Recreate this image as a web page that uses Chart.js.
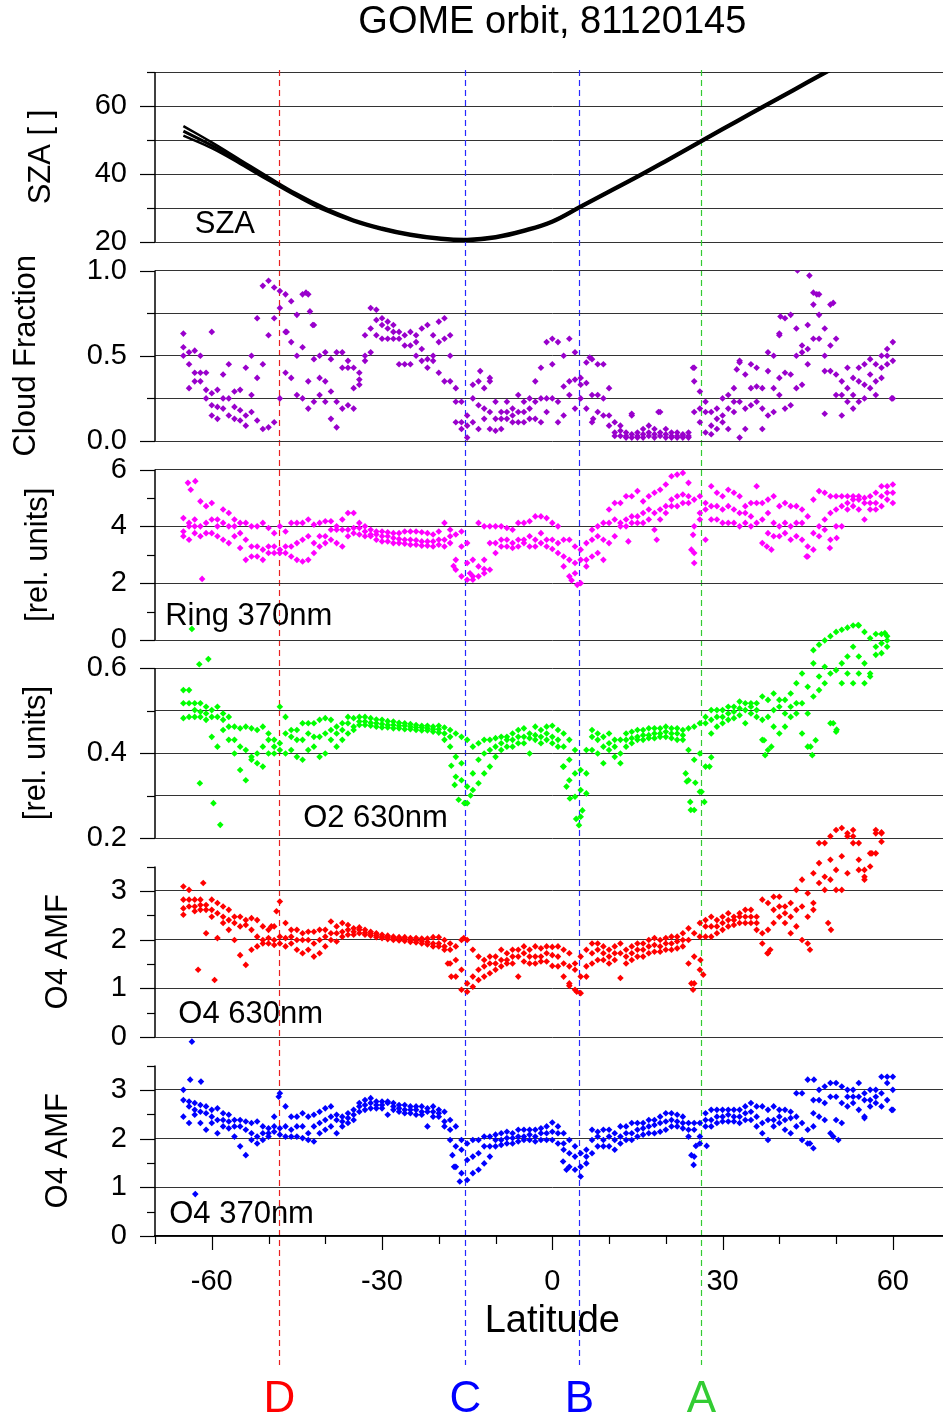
<!DOCTYPE html>
<html>
<head>
<meta charset="utf-8">
<title>GOME orbit, 81120145</title>
<script src="https://cdn.jsdelivr.net/npm/chart.js@4.4.1/dist/chart.umd.min.js"></script>
<style>
  html, body { margin: 0; padding: 0; background: #fff; }
  body { width: 943px; height: 1416px; overflow: hidden; position: relative; }
  canvas { position: absolute; left: 0; top: 0; }
</style>
</head>
<body>
<script>
// latitude grid shared by the three ground-pixel tracks
const LAT = [
  -65,-64,-63,-62,-61,-60,-59,-58,-57,-56,
  -55,-54,-53,-52,-51,-50,-49,-48,-47,-46,
  -45,-44,-43,-42,-41,-40,-39,-38,-37,-36,
  -35,-34,-33,-32,-31,-30,-29,-28,-27,-26,
  -25,-24,-23,-22,-21,-20,-19,-18,-17,-16,
  -15,-14,-13,-12,-11,-10,-9,-8,-7,-6,
  -5,-4,-3,-2,-1,0,1,2,3,4,
  5,6,7,8,9,10,11,12,13,14,
  15,16,17,18,19,20,21,22,23,24,
  25,26,27,28,29,30,31,32,33,34,
  35,36,37,38,39,40,41,42,43,44,
  45,46,47,48,49,50,51,52,53,54,
  55,56,57,58,59,60];

// solar zenith angle
const SZA_LAT = [-65,-60,-55,-50,-45,-40,-35,-30,-25,-20,-15,-10,-5,0,5,10,15,20,25,30,35,40,45,50];
const SZA_HI  = [54.1,49.3,44.2,39.1,34.2,30.0,26.6,24.2,22.4,21.3,20.9,21.7,23.6,26.3,30.7,35.1,39.5,44.1,48.8,53.5,58.1,62.7,67.3,71.9];
const SZA_MID = [52.6,48.4,43.6,38.6,33.8,29.6,26.3,23.9,22.1,21.0,20.6,21.4,23.3,26.0,30.4,34.8,39.2,43.8,48.5,53.2,57.8,62.4,67.0,71.6];
const SZA_LO  = [51.3,47.6,43.0,38.1,33.4,29.2,26.0,23.6,21.8,20.7,20.3,21.1,23.0,25.7,30.1,34.5,38.9,43.5,48.2,52.9,57.5,62.1,66.7,71.3];

// cloud fraction
const CLOUD_A = [
  0.63,0.52,0.53,0.50,0.40,0.28,0.30,0.39,0.45,0.29,
  0.30,0.43,0.50,0.72,0.91,0.94,0.90,0.88,0.86,0.82,
  0.74,0.86,0.86,0.68,0.50,0.52,0.48,0.52,0.52,0.47,
  0.43,0.40,0.62,0.78,0.77,0.72,0.70,0.68,0.64,0.62,
  0.64,0.62,0.66,0.68,0.62,0.70,0.72,0.62,0.31,0.23,
  0.15,0.33,0.35,0.31,0.37,0.23,0.17,0.23,0.19,0.27,
  0.23,0.25,0.35,0.43,0.58,0.60,0.58,0.50,0.60,0.52,
  0.37,0.46,0.48,0.45,0.45,0.31,0.11,0.09,0.05,0.15,
  0.05,0.07,0.09,0.07,0.17,0.07,0.05,0.05,0.04,0.05,
  0.43,0.29,0.23,0.17,0.19,0.25,0.27,0.31,0.47,0.39,
  0.45,0.43,0.31,0.52,0.50,0.62,0.72,0.74,0.66,0.56,
  0.68,0.87,0.86,0.66,0.80,0.60,0.35,0.43,0.37,0.43,
  0.45,0.48,0.45,0.50,0.54,0.58];
const CLOUD_B = [
  0.55,0.45,0.40,0.40,0.30,0.21,0.20,0.25,0.25,0.20,
  0.18,0.15,0.27,0.37,0.45,0.62,0.72,0.78,0.64,0.58,
  0.50,0.55,0.35,0.48,0.37,0.35,0.29,0.23,0.43,0.43,
  0.31,0.36,0.50,0.66,0.71,0.68,0.66,0.64,0.60,0.56,
  0.56,0.58,0.54,0.48,0.50,0.58,0.60,0.50,0.23,0.11,
  0.09,0.25,0.21,0.19,0.17,0.13,0.13,0.17,0.15,0.17,
  0.17,0.19,0.23,0.25,0.25,0.45,0.23,0.32,0.35,0.36,
  0.33,0.34,0.27,0.27,0.25,0.15,0.05,0.06,0.03,0.04,
  0.02,0.04,0.05,0.04,0.05,0.04,0.03,0.03,0.02,0.03,
  0.35,0.19,0.17,0.09,0.13,0.15,0.19,0.23,0.23,0.19,
  0.31,0.32,0.19,0.41,0.31,0.37,0.40,0.39,0.50,0.52,
  0.54,0.80,0.74,0.50,0.56,0.39,0.27,0.31,0.27,0.35,
  0.33,0.39,0.35,0.43,0.50,0.47];
const CLOUD_C = [
  0.50,0.31,0.35,0.35,0.25,0.15,0.13,0.19,0.15,0.13,
  0.12,0.09,0.17,0.12,0.07,0.08,0.11,0.25,0.40,0.37,
  0.27,0.25,0.19,0.23,0.27,0.23,0.13,0.08,0.19,0.21,
  0.19,0.33,0.47,0.52,0.62,0.60,0.60,0.60,0.45,0.45,
  0.45,0.50,0.47,0.43,0.47,0.40,0.35,0.35,0.11,0.07,
  0.02,0.11,0.07,0.13,0.07,0.06,0.07,0.13,0.11,0.11,
  0.11,0.13,0.13,0.11,0.17,0.25,0.11,0.15,0.27,0.19,
  0.25,0.19,0.11,0.17,0.15,0.09,0.03,0.03,0.02,0.02,
  0.03,0.02,0.03,0.02,0.03,0.02,0.02,0.02,0.03,0.02,
  0.17,0.11,0.05,0.04,0.07,0.11,0.07,0.17,0.02,0.07,
  0.21,0.23,0.07,0.15,0.17,0.27,0.19,0.21,0.31,0.33,
  0.45,0.60,0.60,0.41,0.41,0.27,0.15,0.23,0.19,0.23,
  0.25,0.31,0.27,0.37,0.45,0.25];
const CLOUD_X_LAT = [-60,43.2,45.3,-42.2,-42.7,-43.4,-46.8,-12.7,-11,49.5,46.6,40.2,40,32.5,33,24.8,48,59.8,6.6,7.2,14,18.7];
const CLOUD_X_VAL = [0.64,1.00,0.97,0.68,0.76,0.87,0.64,0.41,0.35,0.81,0.86,0.73,0.63,0.42,0.46,0.43,0.16,0.25,0.49,0.13,0.16,0.17];

// Ring 370nm
const RING_A = [
  4.29,4.12,4.24,4.88,4.71,4.82,4.24,4.59,4.47,4.24,
  4.12,4.12,4.00,4.00,4.12,3.94,3.76,4.00,3.82,4.12,
  4.12,4.12,4.24,4.06,4.12,4.18,4.18,4.00,4.24,4.47,
  4.47,4.12,4.00,3.88,3.82,3.82,3.79,3.76,3.76,3.82,
  3.82,3.82,3.79,3.76,3.71,3.82,4.12,3.88,3.71,3.82,
  3.41,2.82,4.12,4.00,4.00,4.00,4.00,3.94,3.88,4.12,
  4.12,4.18,4.35,4.35,4.29,4.12,4.00,3.53,3.53,3.29,
  3.18,3.41,3.88,4.00,4.12,4.59,4.82,4.82,5.06,5.06,
  5.24,4.88,5.06,5.18,5.29,5.47,5.76,5.82,5.88,5.53,
  4.94,5.06,4.82,5.41,5.18,5.06,5.29,5.18,5.06,4.71,
  4.82,5.41,4.82,4.94,5.06,4.71,4.82,4.71,4.71,4.59,
  4.35,4.94,5.24,5.18,5.06,5.06,5.06,5.06,5.06,5.06,
  5.00,5.06,5.18,5.41,5.41,5.47];
const RING_B = [
  3.82,4.00,4.00,4.00,4.12,4.24,4.00,4.12,4.00,4.00,
  3.76,3.53,3.29,3.29,3.18,3.29,3.29,3.18,3.29,3.29,
  3.41,3.53,3.65,3.41,3.65,3.65,3.88,3.88,3.88,3.88,
  3.94,3.94,3.82,3.71,3.71,3.65,3.65,3.59,3.55,3.53,
  3.53,3.51,3.47,3.47,3.47,3.53,3.53,3.65,2.82,3.29,
  2.71,2.24,2.59,2.82,3.41,3.41,3.53,3.53,3.41,3.53,
  3.53,3.65,3.53,3.76,3.53,3.53,3.41,2.94,2.82,2.71,
  2.82,2.82,3.53,3.65,3.53,4.12,4.24,4.12,4.24,4.35,
  4.35,4.47,4.59,4.47,4.59,4.71,4.94,5.06,5.12,5.06,
  4.00,4.47,4.59,4.71,4.71,4.59,4.71,4.59,4.47,4.47,
  4.35,4.82,4.24,4.47,4.12,4.00,4.12,4.00,4.12,4.12,
  3.29,3.76,4.00,4.24,4.47,4.59,4.71,4.82,4.94,4.94,
  4.82,4.82,4.82,5.06,5.18,5.18];
const RING_C = [
  3.65,3.53,3.76,3.65,3.76,3.76,3.65,3.53,3.41,3.65,
  3.24,2.82,2.94,2.94,2.82,3.06,3.06,3.06,3.06,2.94,
  2.82,2.76,2.82,3.06,3.29,3.41,3.53,3.41,3.29,3.65,
  3.76,3.71,3.65,3.65,3.53,3.47,3.47,3.41,3.41,3.39,
  3.35,3.35,3.32,3.32,3.29,3.35,3.29,3.41,2.47,2.24,
  2.12,2.12,2.24,2.35,2.47,3.06,3.29,3.29,3.24,3.29,
  3.41,3.29,3.29,3.41,3.29,3.20,3.06,2.59,2.24,2.35,
  2.00,2.59,2.94,3.06,2.82,3.41,3.65,4.00,4.00,4.12,
  4.12,4.12,4.24,3.88,4.24,4.47,4.71,4.71,4.82,4.82,
  3.06,4.24,3.53,4.24,4.24,4.12,4.12,4.12,4.00,4.12,
  4.00,4.12,3.41,3.76,3.65,3.65,3.76,3.53,3.65,3.53,
  2.94,3.18,3.65,3.88,3.53,4.00,4.00,4.59,4.71,4.59,
  4.24,4.59,4.59,4.71,4.94,4.82];
const RING_X_LAT = [-64.2,-63.7,-62.9,-61.7,4.4,3.4,25.0,24.5,24.8,38.6,37.8,18.4,13.4,44.8,48.9,50.1,-17.4,-14.5,-12.0];
const RING_X_VAL = [5.53,5.29,5.59,2.15,1.94,2.10,2.71,3.18,3.70,3.18,3.29,3.53,3.47,2.94,3.24,3.59,2.60,2.35,2.50];

// O2 630nm
const O2_A = [
  0.548,0.548,0.517,0.517,0.509,0.501,0.509,0.493,0.485,0.462,
  0.458,0.462,0.458,0.454,0.462,0.446,0.431,0.509,0.485,0.454,
  0.454,0.470,0.470,0.470,0.478,0.482,0.478,0.462,0.470,0.485,
  0.482,0.485,0.485,0.482,0.479,0.478,0.475,0.474,0.471,0.470,
  0.468,0.466,0.464,0.464,0.462,0.464,0.460,0.454,0.446,0.438,
  0.431,0.415,0.423,0.431,0.431,0.435,0.438,0.438,0.446,0.454,
  0.458,0.446,0.462,0.454,0.462,0.464,0.454,0.446,0.431,0.407,
  0.360,0.407,0.454,0.446,0.438,0.446,0.431,0.431,0.446,0.450,
  0.454,0.454,0.458,0.458,0.458,0.462,0.458,0.458,0.454,0.458,
  0.462,0.470,0.485,0.501,0.501,0.501,0.509,0.509,0.521,0.517,
  0.517,0.517,0.533,0.525,0.540,0.525,0.525,0.540,0.564,0.587,
  0.556,0.642,0.655,0.665,0.675,0.685,0.690,0.695,0.700,0.700,
  0.685,0.670,0.680,0.680,0.675,null];
const O2_B = [
  0.517,0.517,0.501,0.497,0.493,0.485,0.485,0.478,0.462,0.431,
  0.415,0.407,0.391,0.399,0.415,0.431,0.415,0.423,0.446,0.438,
  0.431,0.431,0.446,0.438,0.438,0.446,0.454,0.446,0.454,0.470,
  0.462,0.474,0.474,0.471,0.470,0.468,0.466,0.466,0.464,0.464,
  0.462,0.460,0.460,0.458,0.456,0.456,0.446,0.438,0.391,0.376,
  0.321,0.352,0.384,0.399,0.407,0.415,0.423,0.431,0.431,0.438,
  0.438,0.435,0.442,0.438,0.446,0.438,0.431,0.415,0.384,0.352,
  0.313,0.352,0.438,0.431,0.415,0.423,0.415,0.399,0.431,0.435,
  0.438,0.442,0.442,0.446,0.446,0.450,0.446,0.446,0.442,0.407,
  0.384,0.399,0.470,0.478,0.485,0.485,0.493,0.497,0.505,0.501,
  0.509,0.501,0.478,0.485,0.501,0.509,0.493,0.509,0.517,0.517,
  0.493,0.611,0.580,0.603,0.587,0.595,0.611,0.627,0.650,0.627,
  0.611,0.587,0.650,0.658,0.665,null];
const O2_C = [
  0.482,0.485,0.485,0.485,0.478,0.438,0.415,0.454,0.431,0.399,
  0.360,0.336,0.384,0.376,0.368,0.399,0.399,0.407,0.399,0.407,
  0.391,0.384,0.407,0.415,0.391,0.399,0.431,0.415,0.431,0.446,
  0.454,0.466,0.466,0.464,0.462,0.460,0.460,0.458,0.458,0.456,
  0.456,0.454,0.453,0.453,0.450,0.448,0.431,0.415,0.344,0.336,
  0.282,0.313,0.329,0.352,0.368,0.391,0.407,0.415,0.415,0.423,
  0.423,0.399,0.431,0.423,0.431,0.423,0.415,0.368,0.336,0.297,
  0.250,0.305,0.407,0.399,0.376,0.407,0.391,0.376,0.415,0.423,
  0.431,0.431,0.435,0.435,0.438,0.438,0.435,0.431,0.431,0.336,
  0.266,0.309,0.368,0.446,0.462,0.470,0.478,0.482,0.489,0.470,
  0.493,0.485,0.431,0.407,0.462,0.446,0.462,0.485,0.493,0.446,
  0.415,0.533,0.548,0.564,0.470,0.450,0.564,0.587,0.564,0.587,
  0.564,0.580,0.631,0.635,0.650,null];
const O2_X_LAT = [-63.5,-62.2,-60.6,-62.1,-59.7,-58.5,-17.8,-17.2,-16.5,-15.5,-14.4,4.7,4.2,5.3,3.1,2.5,1.9,24.4,24.3,25.2,26.8,26.3,27.7,28.0,23.7,23.5,37.5,38.6,37.3,45.5,45.8,46.4,49.5,50.1,53.9,58.6];
const O2_X_VAL = [0.692,0.609,0.621,0.329,0.282,0.231,0.370,0.325,0.290,0.282,0.300,0.230,0.245,0.265,0.293,0.321,0.368,0.266,0.285,0.330,0.285,0.309,0.368,0.390,0.333,0.352,0.395,0.415,0.430,0.415,0.395,0.430,0.470,0.455,0.701,0.682];

// O4 AMF 630nm
const O4R_A = [
  3.09,3.02,2.82,2.82,2.71,2.82,2.75,2.68,2.61,2.47,
  2.47,2.40,2.44,2.40,2.27,2.20,2.27,2.78,2.34,2.20,
  2.20,2.13,2.16,2.16,2.20,2.20,2.37,2.27,2.34,2.30,
  2.23,2.25,2.20,2.16,2.13,2.10,2.08,2.06,2.05,2.05,
  2.03,2.03,2.02,2.02,2.05,2.05,1.99,1.92,1.86,1.99,
  1.99,1.79,1.65,1.58,1.65,1.65,1.79,1.72,1.79,1.79,
  1.86,1.79,1.86,1.82,1.86,1.85,1.86,1.79,1.72,1.51,
  1.65,1.79,1.92,1.92,1.86,1.79,1.86,1.92,1.79,1.86,
  1.92,1.92,1.99,2.03,1.99,2.03,2.06,2.06,2.13,2.23,
  2.13,2.34,2.40,2.47,2.40,2.47,2.54,2.47,2.54,2.61,
  2.61,2.47,2.82,2.75,2.88,2.88,2.68,2.75,3.02,3.23,
  2.95,3.36,3.98,3.98,4.12,4.25,4.29,4.18,4.25,3.98,
  3.43,3.77,4.25,4.18,null,null];
const O4R_B = [
  2.82,2.82,2.68,2.71,2.61,2.61,2.54,2.47,2.40,2.34,
  2.27,2.30,2.20,2.06,1.99,2.03,1.99,2.06,2.03,2.06,
  1.99,1.99,1.99,1.92,1.99,2.06,2.13,2.13,2.16,2.20,
  2.16,2.20,2.14,2.12,2.09,2.06,2.05,2.03,2.02,2.01,
  1.99,1.98,1.97,1.95,1.92,1.92,1.86,1.79,1.58,1.38,
  1.10,1.24,1.38,1.45,1.51,1.51,1.58,1.58,1.65,1.65,
  1.72,1.65,1.65,1.65,1.72,1.68,1.65,1.51,1.45,1.38,
  1.24,1.45,1.72,1.79,1.72,1.65,1.72,1.72,1.65,1.72,
  1.79,1.79,1.86,1.89,1.86,1.92,1.92,1.96,1.99,1.99,
  1.65,2.06,2.27,2.27,2.27,2.34,2.40,2.40,2.47,2.47,
  2.47,2.34,2.13,2.20,2.61,2.68,2.54,2.47,2.61,2.68,
  2.47,2.75,3.57,3.29,3.64,3.43,3.71,4.12,4.12,3.64,
  3.29,3.50,4.18,4.01,null,null];
const O4R_C = [
  2.64,2.68,2.58,2.61,2.13,2.47,2.03,2.34,2.20,1.99,
  1.68,1.48,1.79,1.86,1.92,1.92,1.89,1.92,1.86,1.92,
  1.79,1.72,1.79,1.65,1.72,1.86,1.99,1.96,2.06,2.10,
  2.10,2.13,2.10,2.08,2.05,2.03,2.01,1.99,1.98,1.97,
  1.95,1.94,1.92,1.90,1.86,1.86,1.79,1.51,1.24,0.97,
  0.93,1.03,1.17,1.24,1.31,1.38,1.45,1.51,1.51,1.24,
  1.55,1.51,1.51,1.55,1.55,1.46,1.45,1.24,1.10,0.97,
  0.90,1.24,1.51,1.58,1.58,1.51,1.58,1.21,1.51,1.58,
  1.65,1.65,1.72,1.75,1.75,1.79,1.79,1.82,1.86,1.51,
  1.10,1.38,2.06,2.06,2.13,2.20,2.27,2.30,2.34,2.34,
  2.34,2.20,1.92,1.72,2.34,2.47,2.34,2.13,2.27,1.99,
  1.92,2.61,3.16,3.02,3.23,3.02,3.02,3.36,3.98,3.43,
  3.23,null,3.77,4.20,null,null];
const O4R_X_LAT = [-61.5,-62.4,-59.5,-48.6,-65,-18.4,-17.8,-15.6,4.3,3.0,24.5,24.8,26.6,26.1,37.9,38.4,45.4,48.6,49.1,56.3,-49.5];
const O4R_X_VAL = [3.16,1.38,1.17,2.58,2.51,1.51,1.24,2.03,0.93,1.05,1.10,0.97,1.28,1.58,1.72,1.79,1.79,2.34,2.20,3.77,2.27];

// O4 AMF 370nm
const O4B_A = [
  3.00,2.76,2.73,2.69,2.66,2.59,2.62,2.52,2.49,2.38,
  2.38,2.35,2.32,2.35,2.25,2.21,2.45,2.93,2.66,2.45,
  2.45,2.52,2.45,2.49,2.55,2.62,2.66,2.49,2.45,2.52,
  2.59,2.73,2.79,2.83,2.76,2.76,2.76,2.73,2.69,2.69,
  2.66,2.66,2.66,2.62,2.66,2.59,2.55,2.38,2.25,1.97,
  1.90,1.97,1.97,2.04,2.04,2.08,2.11,2.14,2.11,2.18,
  2.18,2.18,2.18,2.21,2.25,2.33,2.25,2.11,1.97,1.84,
  1.70,1.77,2.18,2.14,2.18,2.18,2.11,2.25,2.25,2.32,
  2.32,2.32,2.38,2.38,2.45,2.52,2.52,2.49,2.45,2.32,
  2.32,2.32,2.52,2.59,2.59,2.59,2.59,2.59,2.59,2.66,
  2.73,2.66,2.66,2.59,2.66,2.59,2.59,2.55,2.93,2.93,
  3.21,2.79,3.00,3.07,3.14,3.14,3.07,3.00,3.00,3.14,
  2.93,3.00,3.00,3.27,3.27,3.27];
const O4B_B = [
  2.79,2.66,2.59,2.55,2.52,2.45,2.38,2.38,2.35,2.25,
  2.25,2.18,2.11,2.04,2.11,2.11,2.25,2.21,2.25,2.18,
  2.25,2.25,2.11,2.25,2.32,2.38,2.45,2.38,2.35,2.42,
  2.49,2.66,2.69,2.73,2.69,2.69,2.73,2.66,2.62,2.59,
  2.59,2.59,2.55,2.55,2.55,2.52,2.35,2.18,1.84,1.77,
  1.56,1.63,1.70,1.84,1.84,1.97,1.97,2.01,2.01,2.04,
  2.04,2.08,2.04,2.11,2.11,2.14,2.11,1.90,1.70,1.63,
  1.42,1.63,1.97,2.04,1.97,2.04,1.97,2.04,2.11,2.11,
  2.18,2.21,2.25,2.28,2.32,2.35,2.38,2.35,2.32,2.18,
  2.18,2.04,2.38,2.38,2.45,2.45,2.49,2.45,2.45,2.52,
  2.55,2.45,2.32,2.38,2.38,2.45,2.38,2.42,2.45,2.32,
  2.18,2.52,2.79,2.73,2.86,2.86,2.73,2.86,2.86,2.86,
  2.79,2.79,2.86,2.93,3.14,3.00];
const O4B_C = [
  2.45,2.32,2.49,2.32,2.18,2.32,2.11,2.25,2.21,2.04,
  1.84,1.66,1.97,1.90,1.97,2.04,2.14,2.08,2.04,2.04,
  2.04,2.01,1.97,1.94,2.11,2.18,2.25,2.11,2.25,2.32,
  2.38,2.55,2.59,2.62,2.62,2.62,2.49,2.59,2.55,2.52,
  2.52,2.49,2.49,2.25,2.45,2.45,2.25,1.97,1.42,1.29,
  1.15,1.29,1.36,1.49,1.63,1.84,1.87,1.90,1.90,1.94,
  1.97,1.97,1.94,1.97,1.97,1.97,1.90,1.77,1.42,1.36,
  1.22,1.49,1.70,1.84,1.84,1.84,1.77,1.90,1.97,1.97,
  2.04,2.08,2.11,2.11,2.14,2.18,2.25,2.25,2.21,2.04,
  1.63,1.90,2.25,2.25,2.32,2.35,2.35,2.35,2.32,2.38,
  2.38,2.25,2.11,1.97,2.25,2.32,2.18,2.11,2.25,1.97,
  1.90,2.25,2.45,2.38,2.11,2.38,2.32,2.66,2.73,2.59,
  2.45,2.66,2.73,2.66,2.79,2.59];
const O4B_X_LAT = [-63.5,-62.9,-63.8,-61.9,-17.6,-17.3,-16.3,1.9,2.5,24.5,24.9,25.3,27.2,46.0,45.4,49.5,50.4,55.0,59.8,46.1,-48.2];
const O4B_X_VAL = [3.99,0.86,3.21,3.17,1.66,1.42,1.12,1.53,1.36,1.66,1.46,1.85,1.85,1.80,1.90,2.04,1.97,2.42,2.59,3.21,2.86];

// event markers and x axis
const MARK_LAT = [-48.2, -15.4, 4.7, 26.2];
const MARK_TXT = ['D', 'C', 'B', 'A'];
const MARK_LINE = ['#e82020', '#2828ff', '#2828ff', '#33cc33'];
const MARK_TEXT = ['#ff0000', '#0000ff', '#0000ff', '#33cc33'];
const X_TICKS = [-70,-60,-50,-40,-30,-20,-10,0,10,20,30,40,50,60,70];
const X_LABELS = [-60,-30,0,30,60];

const W = 960, H = 1416, AXIS_W = 155, PAD_R = 10.4;
const GRID = '#333';
const FAMILY = '"Liberation Sans", Arial, Helvetica, sans-serif';
Chart.defaults.font.family = FAMILY;
Chart.defaults.color = '#000';

const xy = (lats, vals) => lats.map((x, i) => ({ x, y: vals[i] }));
const dots = (lats, vals, color) => ({
  data: xy(lats, vals), pointStyle: 'rectRot', pointRadius: 3.3,
  backgroundColor: color, borderWidth: 0, showLine: false
});
const curve = (vals, width) => ({
  data: xy(SZA_LAT, vals), showLine: true, borderColor: '#000', borderWidth: width,
  pointRadius: 0, tension: 0.4, fill: false
});
const tracks = (a, b, c, xl, xv, color) =>
  [dots(LAT, a, color), dots(LAT, b, color), dots(LAT, c, color), dots(xl, xv, color)];

const PANELS = [
  { min: 20, top: 70, max: 70, topPx: 72, botPx: 242, dec: 0,
    ticks: [20,30,40,50,60,70], labels: [20,40,60], grid: [20,30,40,50,60,70],
    title: 'SZA [ ]', titleX: 41, note: { text: 'SZA', lat: -63, val: 22.6 },
    heading: 'GOME orbit, 81120145', markers: true,
    datasets: [curve(SZA_HI, 2.5), curve(SZA_LO, 2.5), curve(SZA_MID, 3)] },
  { min: 0, top: 1, max: 1, topPx: 270.5, botPx: 441, dec: 1,
    ticks: [0,0.25,0.5,0.75,1], labels: [0,0.5,1], grid: [0,0.25,0.5,0.75,1],
    title: 'Cloud Fraction', titleX: 26, note: null,
    datasets: tracks(CLOUD_A, CLOUD_B, CLOUD_C, CLOUD_X_LAT, CLOUD_X_VAL, '#9900cc') },
  { min: 0, top: 6, max: 6, topPx: 469.5, botPx: 640, dec: 0,
    ticks: [0,1,2,3,4,5,6], labels: [0,2,4,6], grid: [0,2,4,6],
    title: '[rel. units]', titleX: 38, note: { text: 'Ring 370nm', lat: -68.2, val: 0.53 },
    datasets: tracks(RING_A, RING_B, RING_C, RING_X_LAT, RING_X_VAL, '#ff00ff') },
  { min: 0.2, top: 0.6, max: 0.72, topPx: 668, botPx: 838, dec: 1,
    ticks: [0.2,0.3,0.4,0.5,0.6], labels: [0.2,0.4,0.6], grid: [0.2,0.3,0.4,0.5,0.6],
    title: '[rel. units]', titleX: 36, note: { text: 'O2 630nm', lat: -43.9, val: 0.2266 },
    datasets: tracks(O2_A, O2_B, O2_C, O2_X_LAT, O2_X_VAL, '#00ff00') },
  { min: 0, top: 3.5, max: 4.4, topPx: 866.5, botPx: 1037, dec: 0,
    ticks: [0,0.5,1,1.5,2,2.5,3,3.5], labels: [0,1,2,3], grid: [0,1,2,3],
    title: 'O4 AMF', titleX: 58, note: { text: 'O4 630nm', lat: -65.9, val: 0.29 },
    datasets: tracks(O4R_A, O4R_B, O4R_C, O4R_X_LAT, O4R_X_VAL, '#ff0000') },
  { min: 0, top: 3.5, max: 4.1, topPx: 1065.5, botPx: 1236, dec: 0,
    ticks: [0,0.5,1,1.5,2,2.5,3,3.5], labels: [0,1,2,3], grid: [0,1,2,3],
    title: 'O4 AMF', titleX: 58, note: { text: 'O4 370nm', lat: -67.5, val: 0.27 },
    datasets: tracks(O4B_A, O4B_B, O4B_C, O4B_X_LAT, O4B_X_VAL, '#0000ff') }
];

function drawMarkers(chart) {
  const { ctx, scales: { x } } = chart;
  ctx.save();
  MARK_LAT.forEach((lat, i) => {
    const px = Math.round(x.getPixelForValue(lat)) + 0.5;
    ctx.strokeStyle = MARK_LINE[i];
    ctx.lineWidth = 1.2;
    ctx.setLineDash([6, 4]);
    ctx.beginPath();
    ctx.moveTo(px, 70);
    ctx.lineTo(px, 1365);
    ctx.stroke();
    ctx.setLineDash([]);
    ctx.fillStyle = MARK_TEXT[i];
    ctx.font = '44px ' + FAMILY;
    ctx.textAlign = 'center';
    ctx.textBaseline = 'alphabetic';
    ctx.fillText(MARK_TXT[i], px, 1412);
  });
  ctx.restore();
}

// axis line, tick marks, rotated axis title and in-panel label
function panelDeco(p, isBottom) {
  return {
    id: 'panelDeco',
    beforeDatasetsDraw(chart) {
      if (p.markers) drawMarkers(chart);
    },
    afterDraw(chart) {
      const { ctx, chartArea: a, scales: { x, y } } = chart;
      const yTop = y.getPixelForValue(p.top);
      const yBot = y.getPixelForValue(p.min);
      ctx.save();
      ctx.strokeStyle = '#000';
      ctx.lineWidth = 1.5;
      ctx.beginPath();
      ctx.moveTo(a.left, yTop);
      ctx.lineTo(a.left, yBot);
      ctx.stroke();
      ctx.lineWidth = 1.2;
      p.ticks.forEach(v => {
        const py = Math.round(y.getPixelForValue(v)) + 0.5;
        const len = p.labels.includes(v) ? 15 : 8;
        ctx.beginPath();
        ctx.moveTo(a.left - len, py);
        ctx.lineTo(a.left, py);
        ctx.stroke();
      });
      if (isBottom) {
        X_TICKS.forEach(v => {
          const px = Math.round(x.getPixelForValue(v)) + 0.5;
          const len = X_LABELS.includes(v) ? 14 : 8;
          ctx.beginPath();
          ctx.moveTo(px, a.bottom);
          ctx.lineTo(px, a.bottom + len);
          ctx.stroke();
        });
      }
      ctx.fillStyle = '#000';
      ctx.font = '31px ' + FAMILY;
      if (p.note) {
        ctx.textAlign = 'left';
        ctx.textBaseline = 'alphabetic';
        ctx.fillText(p.note.text, x.getPixelForValue(p.note.lat), y.getPixelForValue(p.note.val));
      }
      ctx.translate(p.titleX, (yTop + yBot) / 2);
      ctx.rotate(-Math.PI / 2);
      ctx.textAlign = 'center';
      ctx.textBaseline = 'middle';
      ctx.fillText(p.title, 0, 0);
      ctx.restore();
    }
  };
}

function panelChart(p, isBottom) {
  const pxPerUnit = (p.botPx - p.topPx) / (p.top - p.min);
  const areaTop = p.botPx - (p.max - p.min) * pxPerUnit;
  const xAxisH = isBottom ? 110 : 0;
  const canvas = document.createElement('canvas');
  canvas.width = W;
  canvas.height = H;
  document.body.appendChild(canvas);

  return new Chart(canvas, {
    type: 'scatter',
    data: { datasets: p.datasets },
    options: {
      responsive: false,
      animation: false,
      events: [],
      layout: { padding: { top: p.heading ? 0 : areaTop, bottom: H - p.botPx - xAxisH, left: 0, right: PAD_R } },
      plugins: {
        legend: { display: false },
        tooltip: { enabled: false },
        title: p.heading ? {
          display: true, text: p.heading, fullSize: false, color: '#000',
          font: { size: 38, weight: 'normal' },
          padding: { top: 0, bottom: areaTop - 45.6 }
        } : { display: false }
      },
      scales: {
        x: {
          type: 'linear', min: -70, max: 70, display: isBottom,
          // only the labelled ticks go to Chart.js; the minor marks are drawn by panelDeco
          afterBuildTicks: s => { s.ticks = X_LABELS.map(v => ({ value: v })); },
          afterFit: s => { s.height = xAxisH; },
          grid: { drawOnChartArea: false, drawTicks: false },
          border: { display: true, color: '#000', width: 1.5 },
          ticks: {
            autoSkip: false, maxRotation: 0, padding: 29, color: '#000', font: { size: 29 }
          },
          title: { display: true, text: 'Latitude', color: '#000', font: { size: 38 }, padding: { top: 0, bottom: 2 } }
        },
        y: {
          type: 'linear', min: p.min, max: p.max,
          afterFit: s => { s.width = AXIS_W; },
          afterBuildTicks: s => { s.ticks = p.ticks.map(v => ({ value: v })); },
          grid: {
            drawTicks: false, lineWidth: 1,
            color: c => (c.tick && p.grid.includes(c.tick.value)) ? GRID : 'rgba(0,0,0,0)'
          },
          border: { display: false },
          ticks: {
            autoSkip: false, padding: 28, color: '#000', font: { size: 29 },
            callback: v => p.labels.includes(v) ? v.toFixed(p.dec) : ''
          }
        }
      }
    },
    plugins: [panelDeco(p, isBottom)]
  });
}

PANELS.forEach((p, i) => panelChart(p, i === PANELS.length - 1));
</script>
</body>
</html>
